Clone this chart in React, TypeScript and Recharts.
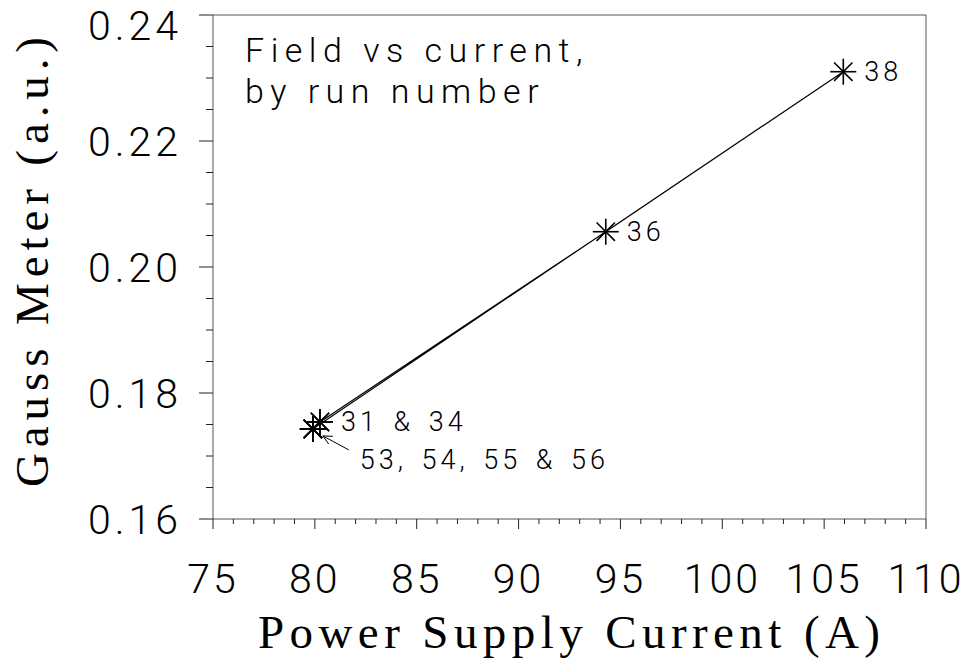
import React from 'react'
import { ScatterChart, Scatter, XAxis, YAxis } from 'recharts'

// runs in the order they were taken; the line joins them in this order
const runs = [31, 34, 36, 38, 53, 54, 55, 56]
const current = [80.25, 80.25, 94.28, 105.94, 79.9, 79.9, 79.9, 79.9]
const gauss = [0.1754, 0.1754, 0.2056, 0.231, 0.1743, 0.1743, 0.1743, 0.1743]
const pointLabels = ['', '31 & 34', '36', '38', '', '', '', '53, 54, 55 & 56']

// tick labels
const xMajor = [75, 80, 85, 90, 95, 100, 105, 110]
const yMajor = [0.16, 0.18, 0.2, 0.22, 0.24]
// minor ticks: every 1 A and every 0.005
const xTicks = Array.from({ length: 36 }, (_, i) => 75 + i)
const yTicks = Array.from({ length: 17 }, (_, i) => +(0.16 + i * 0.005).toFixed(3))

const rows = runs.map((run, i) => ({ run, x: current[i], y: gauss[i], label: pointLabels[i] }))

const SANS = "Roboto, 'Liberation Sans', sans-serif"
const SERIF = "'Liberation Serif', 'DejaVu Serif', serif"
const TICK = '#222'
const AXIS = '#555'

const isXMajor = (v: number) => xMajor.includes(v)
const isYMajor = (v: number) => yMajor.some((m) => Math.abs(m - v) < 1e-6)

function BottomTick({ x, y, payload }: any) {
  const major = isXMajor(payload.value)
  return (
    <g>
      <line x1={x} x2={x} y1={y} y2={y + (major ? 10 : 5)} stroke={TICK} />
      {major && (
        <text x={x} y={y + 74} textAnchor="middle" fontFamily={SANS} fontWeight={300} fontSize={41} letterSpacing={3} fill="#000">
          {payload.value}
        </text>
      )}
    </g>
  )
}

function TopTick({ x, y, payload }: any) {
  const major = isXMajor(payload.value)
  return <line x1={x} x2={x} y1={y} y2={y - (major ? 10 : 5)} stroke={TICK} />
}

function LeftTick({ x, y, payload }: any) {
  const v = payload.value
  const major = isYMajor(v)
  // the top label is pushed down so it stays inside the page
  const base = Math.max(y + 15, 40)
  return (
    <g>
      <line x1={x} x2={x - (major ? 14 : 7)} y1={y} y2={y} stroke={TICK} />
      {major && (
        <text x={x - 31} y={base} textAnchor="end" fontFamily={SANS} fontWeight={300} fontSize={41} letterSpacing={4} fill="#000">
          {v.toFixed(2)}
        </text>
      )}
    </g>
  )
}

function RightTick({ x, y, payload }: any) {
  const major = isYMajor(payload.value)
  return <line x1={x} x2={x + (major ? 14 : 7)} y1={y} y2={y} stroke={TICK} />
}

// label placement next to each asterisk
const labelOffset: Record<string, { dx: number; dy: number; arrow?: boolean }> = {
  '53, 54, 55 & 56': { dx: 47, dy: 40, arrow: true },
}

function Star({ cx, cy, payload }: any) {
  const r = 13
  const d = r * 0.707
  const off = labelOffset[payload.label] || { dx: 21, dy: 9 }
  // arrow from the label back to the point
  const ax = cx + 36
  const ay = cy + 21
  const tx = cx + 10
  const ty = cy + 7
  const ang = Math.atan2(ay - ty, ax - tx)
  const h = 10
  return (
    <g stroke="#000" strokeWidth={1.6}>
      <line x1={cx - r} x2={cx + r} y1={cy} y2={cy} />
      <line x1={cx} x2={cx} y1={cy - r} y2={cy + r} />
      <line x1={cx - d} x2={cx + d} y1={cy - d} y2={cy + d} />
      <line x1={cx - d} x2={cx + d} y1={cy + d} y2={cy - d} />
      {payload.label && (
        <text x={cx + off.dx} y={cy + off.dy} stroke="none" fill="#000" fontFamily={SANS} fontWeight={300} fontSize={27} letterSpacing={4} wordSpacing={4}>
          {payload.label}
        </text>
      )}
      {off.arrow && (
        <g strokeWidth={1}>
          <line x1={ax} y1={ay} x2={tx} y2={ty} />
          <line x1={tx} y1={ty} x2={tx + h * Math.cos(ang + 0.45)} y2={ty + h * Math.sin(ang + 0.45)} />
          <line x1={tx} y1={ty} x2={tx + h * Math.cos(ang - 0.45)} y2={ty + h * Math.sin(ang - 0.45)} />
        </g>
      )}
    </g>
  )
}

function XTitle() {
  return (
    <text x={569} y={648} textAnchor="middle" fontFamily={SERIF} fontSize={47} textLength={622} lengthAdjust="spacing" fill="#000">
      Power Supply Current (A)
    </text>
  )
}

function YTitle() {
  return (
    <text x={48} y={262} transform="rotate(-90 48 262)" textAnchor="middle" fontFamily={SERIF} fontSize={47} textLength={450} lengthAdjust="spacing" fill="#000">
      Gauss Meter (a.u.)
    </text>
  )
}

function Note() {
  return (
    <g fontFamily={SANS} fontWeight={300} fontSize={34} letterSpacing={6.5} fill="#000">
      <text x={245} y={62}>Field vs current,</text>
      <text x={245} y={103}>by run number</text>
    </g>
  )
}

export default function App() {
  return (
    <div style={{ position: 'absolute', left: 0, top: 0, width: 967, height: 660, background: '#fff' }}>
      <ScatterChart width={967} height={660} margin={{ top: 0, right: 0, bottom: 0, left: 0 }}>
        <XAxis
          xAxisId="b"
          type="number"
          dataKey="x"
          domain={[75, 110]}
          ticks={xTicks}
          interval={0}
          height={141}
          tickSize={0}
          tickMargin={0}
          tickLine={false}
          tick={(p: any) => <BottomTick {...p} />}
          axisLine={{ stroke: AXIS }}
          label={<XTitle />}
        />
        <XAxis
          xAxisId="t"
          orientation="top"
          type="number"
          dataKey="x"
          domain={[75, 110]}
          ticks={xTicks}
          interval={0}
          height={15}
          tickSize={0}
          tickMargin={0}
          tickLine={false}
          tick={(p: any) => <TopTick {...p} />}
          axisLine={{ stroke: AXIS }}
          label={<Note />}
        />
        <YAxis
          yAxisId="l"
          type="number"
          dataKey="y"
          domain={[0.16, 0.24]}
          ticks={yTicks}
          interval={0}
          width={213}
          tickSize={0}
          tickMargin={0}
          tickLine={false}
          tick={(p: any) => <LeftTick {...p} />}
          axisLine={{ stroke: AXIS }}
          label={<YTitle />}
        />
        <YAxis
          yAxisId="r"
          orientation="right"
          type="number"
          dataKey="y"
          domain={[0.16, 0.24]}
          ticks={yTicks}
          interval={0}
          width={41}
          tickSize={0}
          tickMargin={0}
          tickLine={false}
          tick={(p: any) => <RightTick {...p} />}
          axisLine={{ stroke: AXIS }}
        />
        <Scatter
          data={rows}
          xAxisId="b"
          yAxisId="l"
          line={{ stroke: '#000', strokeWidth: 1.2 }}
          lineType="joint"
          shape={(p: any) => <Star {...p} />}
          isAnimationActive={false}
        />
      </ScatterChart>
    </div>
  )
}
